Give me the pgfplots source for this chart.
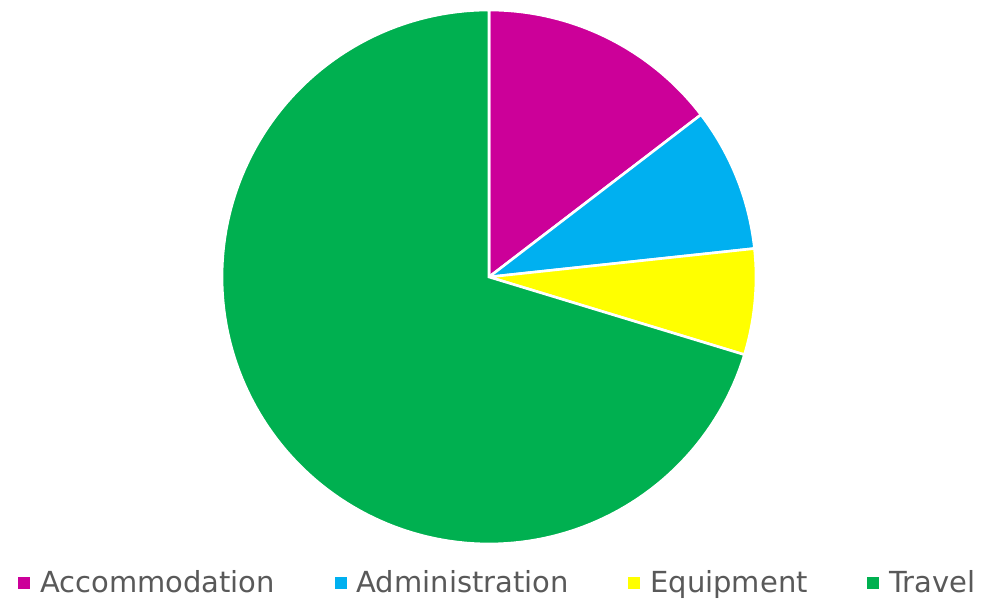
\documentclass[border=0pt]{standalone}
\usepackage{pgfplots}
\pgfplotsset{compat=1.18}
\usepackage{fontspec}
\setmainfont{DejaVu Sans}

\definecolor{accom}{HTML}{CC0099}
\definecolor{admin}{HTML}{00B0F0}
\definecolor{equip}{HTML}{FFFF00}
\definecolor{travel}{HTML}{00B050}
\definecolor{legtext}{HTML}{595959}

% shares in percent
\def\vAccom{14.6}
\def\vAdmin{8.7}
\def\vEquip{6.4}
\def\vTravel{70.3}

\begin{document}
\begin{tikzpicture}
\pgfmathsetmacro{\aA}{90}
\pgfmathsetmacro{\aB}{\aA-3.6*\vAccom}
\pgfmathsetmacro{\aC}{\aB-3.6*\vAdmin}
\pgfmathsetmacro{\aD}{\aC-3.6*\vEquip}
\pgfmathsetmacro{\aE}{\aD-3.6*\vTravel}
\begin{axis}[
    width=501.5pt, height=301.5pt, scale only axis,
    xmin=0, xmax=1003, ymin=0, ymax=603,
    hide axis, clip=false,
    legend columns=4,
    legend image code/.code={\fill[#1,draw=none] (0pt,-3pt) rectangle (6pt,3pt);},
    legend style={draw=none, fill=none, inner sep=0pt, outer sep=0pt,
        at={(0.018,0.033)}, anchor=west,
        font=\fontsize{14.5}{17}\selectfont, text=legtext,
        /tikz/every odd column/.append style={column sep=3pt},
        /tikz/every even column/.append style={column sep=27.8pt}},
]
\path (axis cs:0,0) rectangle (axis cs:1003,603);
\addplot[fill=accom, draw=white, line width=1.3pt, domain=\aA:\aB, samples=40]
    ({489+267*cos(x)},{326+267*sin(x)}) -- (axis cs:489,326) -- cycle;
\addlegendentry{Accommodation}
\addplot[fill=admin, draw=white, line width=1.3pt, domain=\aB:\aC, samples=30]
    ({489+267*cos(x)},{326+267*sin(x)}) -- (axis cs:489,326) -- cycle;
\addlegendentry{Administration}
\addplot[fill=equip, draw=white, line width=1.3pt, domain=\aC:\aD, samples=30]
    ({489+267*cos(x)},{326+267*sin(x)}) -- (axis cs:489,326) -- cycle;
\addlegendentry{Equipment}
\addplot[fill=travel, draw=white, line width=1.3pt, domain=\aD:\aE, samples=150]
    ({489+267*cos(x)},{326+267*sin(x)}) -- (axis cs:489,326) -- cycle;
\addlegendentry{Travel}
\end{axis}
\end{tikzpicture}
\end{document}
